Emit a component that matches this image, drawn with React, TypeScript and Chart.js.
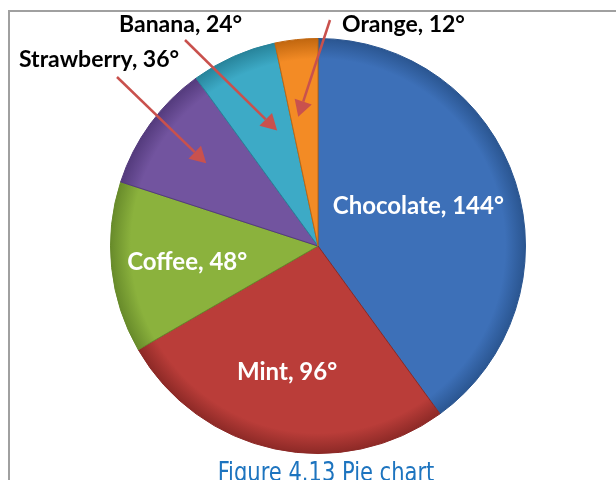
import React, { useEffect, useRef } from 'react';
import { Chart, registerables } from 'chart.js';

Chart.register(...registerables);

const categories = ['Chocolate', 'Mint', 'Coffee', 'Strawberry', 'Banana', 'Orange'];
const degrees = [144, 96, 48, 36, 24, 12];
const sliceColors = ['#3D70B8', '#BA3D39', '#8BB23D', '#72549F', '#3DAAC6', '#F38B25'];
const edgeColors = ['#2A5590', '#8C2926', '#678A2A', '#533A7C', '#27839A', '#C0660F'];
const insideSlices = ['Chocolate', 'Mint', 'Coffee'];
const captionText = 'Figure 4.13 Pie chart';

const LABEL_FONT = 'bold 23px Lato, "Liberation Sans", sans-serif';
const INSIDE_FONT = 'bold 24px Lato, "Liberation Sans", sans-serif';

// placement of labels relative to slice (radius fraction, angle shift in degrees)
const insidePlacement: Record<string, [number, number]> = {
  Chocolate: [0.52, -3.6],
  Mint: [0.625, 1.8],
  Coffee: [0.635, -1],
};
// outside labels: text anchor (left, baseline) and arrow start; arrow tip relative to slice
const outsidePlacement: Record<string, { tx: number; ty: number; sx: number; sy: number; frac: number; shift: number }> = {
  Strawberry: { tx: 19, ty: 67, sx: 117, sy: 77, frac: 0.67, shift: 0.5 },
  Banana: { tx: 119, ty: 32, sx: 185, sy: 40, frac: 0.59, shift: 4.5 },
  Orange: { tx: 342, ty: 32, sx: 330, sy: 20, frac: 0.63, shift: -2.7 },
};

const labelPlugin = {
  id: 'sliceLabels',
  afterDatasetsDraw(chart: any) {
    const ctx: CanvasRenderingContext2D = chart.ctx;
    const meta = chart.getDatasetMeta(0);
    const arcAt = (i: number, frac: number, shiftDeg: number) => {
      const a: any = meta.data[i];
      const mid = (a.startAngle + a.endAngle) / 2 + (shiftDeg * Math.PI) / 180;
      const r = a.outerRadius * frac;
      return { x: a.x + r * Math.cos(mid), y: a.y + r * Math.sin(mid) };
    };
    ctx.save();
    categories.forEach((cat, i) => {
      const text = `${cat}, ${degrees[i]}°`;
      if (insideSlices.includes(cat)) {
        const [frac, shift] = insidePlacement[cat];
        const p = arcAt(i, frac, shift);
        ctx.font = INSIDE_FONT;
        ctx.fillStyle = '#FFFFFF';
        ctx.textAlign = 'center';
        ctx.textBaseline = 'middle';
        ctx.fillText(text, p.x, p.y);
      } else {
        const o = outsidePlacement[cat];
        const tip = arcAt(i, o.frac, o.shift);
        const dx = tip.x - o.sx;
        const dy = tip.y - o.sy;
        const len = Math.hypot(dx, dy);
        const ux = dx / len;
        const uy = dy / len;
        const headLen = 16;
        const headW = 9;
        const bx = tip.x - ux * headLen;
        const by = tip.y - uy * headLen;
        ctx.strokeStyle = '#C9514D';
        ctx.fillStyle = '#C9514D';
        ctx.lineWidth = 2.5;
        ctx.beginPath();
        ctx.moveTo(o.sx, o.sy);
        ctx.lineTo(bx, by);
        ctx.stroke();
        ctx.beginPath();
        ctx.moveTo(tip.x, tip.y);
        ctx.lineTo(bx - uy * headW, by + ux * headW);
        ctx.lineTo(bx + uy * headW, by - ux * headW);
        ctx.closePath();
        ctx.fill();
        ctx.font = LABEL_FONT;
        ctx.fillStyle = '#000000';
        ctx.textAlign = 'left';
        ctx.textBaseline = 'alphabetic';
        ctx.fillText(text, o.tx, o.ty);
      }
    });
    // caption (condensed)
    ctx.font = '26px "Liberation Sans Narrow", "DejaVu Sans Condensed", sans-serif';
    ctx.fillStyle = '#1D74BF';
    ctx.textAlign = 'center';
    ctx.textBaseline = 'alphabetic';
    ctx.translate(326, 481);
    ctx.scale(0.9, 1);
    ctx.fillText(captionText, 0, 0);
    ctx.restore();
  },
};

export default function App() {
  const canvasRef = useRef<HTMLCanvasElement | null>(null);

  useEffect(() => {
    const canvas = canvasRef.current;
    if (!canvas) return;
    const chart = new Chart(canvas, {
      type: 'pie',
      data: {
        labels: categories,
        datasets: [
          {
            data: degrees,
            backgroundColor: (c: any) => {
              const chart = c.chart;
              const area = chart.chartArea;
              const i = c.dataIndex;
              if (!area || i === undefined) return sliceColors[i ?? 0];
              const cx = (area.left + area.right) / 2;
              const cy = (area.top + area.bottom) / 2;
              const r = Math.min(area.right - area.left, area.bottom - area.top) / 2;
              const g = chart.ctx.createRadialGradient(cx, cy, 0, cx, cy, r);
              g.addColorStop(0, sliceColors[i]);
              g.addColorStop(0.9, sliceColors[i]);
              g.addColorStop(1, edgeColors[i]);
              return g;
            },
            borderColor: edgeColors,
            borderWidth: 1,
          },
        ],
      },
      options: {
        responsive: false,
        animation: false,
        layout: { padding: { left: 110, right: 90, top: 38, bottom: 26 } },
        plugins: {
          legend: { display: false },
          tooltip: { enabled: false },
          title: { display: false },
        },
      },
      plugins: [labelPlugin],
    });
    return () => chart.destroy();
  }, []);

  return (
    <div
      style={{
        position: 'fixed',
        left: 0,
        top: 0,
        width: 616,
        height: 480,
        overflow: 'hidden',
        background: '#FFFFFF',
      }}
    >
      <div
        style={{
          position: 'absolute',
          left: 8,
          top: 10,
          width: 700,
          height: 600,
          border: '2px solid #A0A0A0',
        }}
      />
      <canvas
        ref={canvasRef}
        width={616}
        height={480}
        style={{ position: 'absolute', left: 0, top: 0, width: 616, height: 480 }}
      />
    </div>
  );
}
